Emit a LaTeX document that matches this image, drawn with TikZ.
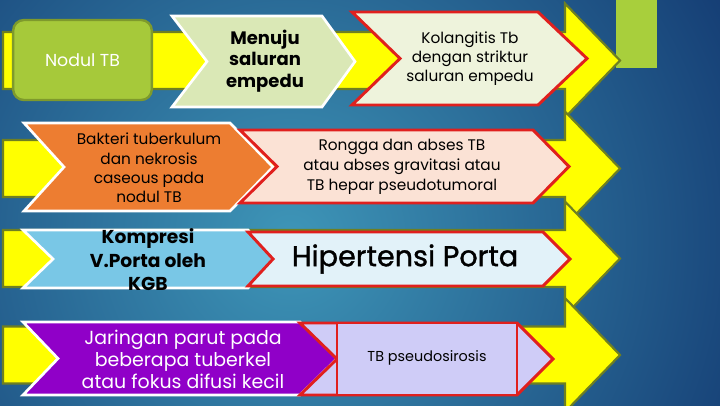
\documentclass[tikz,border=0pt]{standalone}
\usepackage{fontspec}
\setmainfont{Poppins}
\usepackage{tikz}
\usetikzlibrary{positioning}

\definecolor{bgdark}{HTML}{0B2864}
\definecolor{bglight}{HTML}{3E96B8}
\definecolor{arrowyellow}{HTML}{FFFF00}
\definecolor{arrowolive}{HTML}{6E7F22}
\definecolor{leafgreen}{HTML}{A8CF3C}
\definecolor{nodulgreen}{HTML}{A6C93A}
\definecolor{nodulbd}{HTML}{7E9A2C}
\definecolor{paleleaf}{HTML}{DAE8B6}
\definecolor{cream}{HTML}{EEF3DC}
\definecolor{boxred}{HTML}{E0201E}
\definecolor{tborange}{HTML}{ED7D31}
\definecolor{palepink}{HTML}{FBE2D5}
\definecolor{skyblue}{HTML}{79C7E6}
\definecolor{paleblue}{HTML}{E2F2F9}
\definecolor{tbpurple}{HTML}{9000C8}
\definecolor{lavender}{HTML}{CFCCF7}

% chevron: style, left x, notch x, shoulder x, tip x, top y, bottom y
\newcommand{\chev}[7]{\path[#1] (#2,#6) -- (#4,#6) -- (#5,{(#6+#7)/2}) -- (#4,#7) -- (#2,#7) -- (#3,{(#6+#7)/2}) -- cycle;}
\newcommand{\setfs}[2]{\fontsize{#1}{#2}\selectfont}

\begin{document}
\begin{tikzpicture}[x=0.75pt,y=-0.75pt,
  yarrow/.style={fill=arrowyellow,draw=arrowolive,line width=1.6pt,line join=miter},
  wbox/.style={draw=white,line width=2pt,line join=miter},
  rbox/.style={draw=boxred,line width=2.2pt,line join=miter},
  lbl/.style={align=center,inner sep=0pt}]
\useasboundingbox (0,0) rectangle (720,405);
\begin{scope}
  \clip (0,0) rectangle (720,405);
  % background
  \fill[bgdark] (0,0) rectangle (720,405);
  \shade[inner color=bglight,outer color=bgdark] (290,240) circle (620);
  \fill[leafgreen] (616,0) rectangle (657,68);
  % big yellow arrows
  \foreach \c in {60.5,168.5,258.5,355}
    \draw[yarrow] (3,\c-28.5) -- (565,\c-28.5) -- (565,\c-57) -- (620,\c)
      -- (565,\c+57) -- (565,\c+28.5) -- (3,\c+28.5) -- cycle;
\end{scope}

% row 1
\node[draw=nodulbd,fill=nodulgreen,line width=1.8pt,rounded corners=8pt,
  minimum width=104pt,minimum height=60pt,text=white,font=\setfs{13}{16}] (nodul) at (82.5,60) {Nodul TB};
\chev{wbox,fill=paleleaf}{172}{207}{322}{355}{16}{107}
\node[lbl,font=\bfseries\setfs{13.5}{16}] (menuju) at (265,61) {Menuju\\saluran\\empedu};
\chev{rbox,fill=cream}{352}{400}{538}{587}{12}{105}
\node[lbl,font=\setfs{11.5}{14.3}] (kolangitis) at (470,59) {Kolangitis Tb\\dengan striktur\\saluran empedu};

% row 2
\chev{wbox,fill=tborange}{24}{64}{230}{273}{123}{211}
\node[lbl,font=\setfs{11.5}{14.6}] (bakteri) at (149,168) {Bakteri tuberkulum\\dan nekrosis\\caseous pada\\nodul TB};
\chev{rbox,fill=palepink}{240}{277}{533}{569}{130}{203}
\node[lbl,font=\setfs{11.5}{15}] (rongga) at (402,167) {Rongga dan abses TB\\atau abses gravitasi atau\\TB hepar pseudotumoral};

% row 3
\chev{wbox,fill=skyblue}{23}{53}{248}{273}{230}{288}
\node[lbl,font=\bfseries\setfs{14}{17.6}] (kompresi) at (148,260) {Kompresi\\V.Porta oleh\\KGB};
\chev{rbox,fill=paleblue}{248}{273}{543}{570}{232}{286}
\node[lbl,font=\addfontfeature{FakeBold=1.2}\setfs{21.5}{24}] (porta) at (405,259) {Hipertensi Porta};

% row 4
\chev{wbox,fill=tbpurple}{23}{58}{300}{337}{322}{395}
\node[lbl,text=white,font=\setfs{14.2}{16.5}] (jaringan) at (183,359) {Jaringan parut pada\\beberapa tuberkel\\atau fokus difusi kecil};
\chev{rbox,fill=lavender}{300}{337}{517}{553}{323}{395}
\draw[rbox,fill=lavender] (337,323) rectangle (517,395);
\node[lbl,font=\setfs{10.8}{12}] (pseudo) at (427,358) {TB pseudosirosis};
\end{tikzpicture}
\end{document}
